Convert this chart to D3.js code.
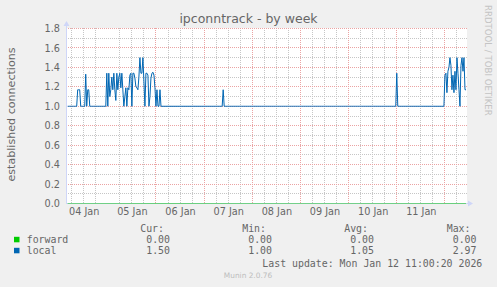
<!DOCTYPE html>
<html>
<head>
<meta charset="utf-8">
<script src="https://cdn.jsdelivr.net/npm/d3@7"></script>
<style>
body { margin: 0; background: #f0f0f0; }
svg { display: block; }
</style>
</head>
<body>
<div id="chart"></div>
<script>
// Samples are 30 minutes apart, the first one taken Jan 4 04:00.
var sampleStart = new Date(2026, 0, 4, 4, 0);
var sampleStepMinutes = 30;

// established connections, "local"
var localValues = [
    1,1,1,1,1,1,1,1,1,1, 1.17,1.17,1.17,1,1,1,1,1,1.33,1,
    1.17,1.17,1,1,1,1,1,1,1,1, 1,1,1,1,1,1,1,1,1,1.34,
    1,1.34,1.1,1.17,1.3,1.17,1.34,1.17,
    1.06,1.34,1.17,1.3,1.34,1.19,1.34,1.17,1,1.1, 1.19,1,1.19,1.17,1.32,1.34,1,1.34,1.34,1.29,
    1.2,1.19,1.17,1.3,1.5,1.34,1.34,1.5,1.25,1, 1.34,1.34,1.32,1,1.1,1.29,1.34,1.35,1.32,1.19,
    1,1.17,1,1,1.17,1,1,1,
    1,1,1,1,1,1,1,1,1,1, 1,1,1,1,1,1,1,1,1,1, 1,1,1,1,1,1,1,1,1,1, 1,1,1,1,1,1,1,1,1,1, 1,1,1,1,1,1,1,1,
    1,1,1,1,1,1,1,1,1,1, 1,1.17,1,1,1,1,1,1,1,1, 1,1,1,1,1,1,1,1,1,1, 1,1,1,1,1,1,1,1,1,1, 1,1,1,1,1,1,1,1,
    1,1,1,1,1,1,1,1,1,1, 1,1,1,1,1,1,1,1,1,1, 1,1,1,1,1,1,1,1,1,1, 1,1,1,1,1,1,1,1,1,1, 1,1,1,1,1,1,1,1,
    1,1,1,1,1,1,1,1,1,1, 1,1,1,1,1,1,1,1,1,1, 1,1,1,1,1,1,1,1,1,1, 1,1,1,1,1,1,1,1,1,1, 1,1,1,1,1,1,1,1,
    1,1,1,1,1,1,1,1,1,1, 1,1,1,1,1,1,1,1,1,1, 1,1,1,1,1,1,1,1,1,1, 1,1,1,1,1,1,1,1,1,1, 1.34,1,1,1,1,1,1,1,
    1,1,1,1,1,1,1,1,1,1, 1,1,1,1,1,1,1,1,1,1, 1,1,1,1,1,1,1,1,1,1, 1,1,1,1,1,1,1,1,1,1, 1.32,1.34,1.14,1.36,1.4,1.5,1.42,1.17,
    1.32,1.14,1.36,1.17,1.5,1.34,1.17,1,1.42,1.5, 1.36,1.5,1.17,1.17
];

// established connections, "forward"
var forwardValues = [
    0,0,0,0,0,0,0,0,0,0, 0,0,0,0,0,0,0,0,0,0, 0,0,0,0,0,0,0,0,0,0, 0,0,0,0,0,0,0,0,0,0, 0,0,0,0,0,0,0,0,
    0,0,0,0,0,0,0,0,0,0, 0,0,0,0,0,0,0,0,0,0, 0,0,0,0,0,0,0,0,0,0, 0,0,0,0,0,0,0,0,0,0, 0,0,0,0,0,0,0,0,
    0,0,0,0,0,0,0,0,0,0, 0,0,0,0,0,0,0,0,0,0, 0,0,0,0,0,0,0,0,0,0, 0,0,0,0,0,0,0,0,0,0, 0,0,0,0,0,0,0,0,
    0,0,0,0,0,0,0,0,0,0, 0,0,0,0,0,0,0,0,0,0, 0,0,0,0,0,0,0,0,0,0, 0,0,0,0,0,0,0,0,0,0, 0,0,0,0,0,0,0,0,
    0,0,0,0,0,0,0,0,0,0, 0,0,0,0,0,0,0,0,0,0, 0,0,0,0,0,0,0,0,0,0, 0,0,0,0,0,0,0,0,0,0, 0,0,0,0,0,0,0,0,
    0,0,0,0,0,0,0,0,0,0, 0,0,0,0,0,0,0,0,0,0, 0,0,0,0,0,0,0,0,0,0, 0,0,0,0,0,0,0,0,0,0, 0,0,0,0,0,0,0,0,
    0,0,0,0,0,0,0,0,0,0, 0,0,0,0,0,0,0,0,0,0, 0,0,0,0,0,0,0,0,0,0, 0,0,0,0,0,0,0,0,0,0, 0,0,0,0,0,0,0,0,
    0,0,0,0,0,0,0,0,0,0, 0,0,0,0,0,0,0,0,0,0, 0,0,0,0,0,0,0,0,0,0, 0,0,0,0,0,0,0,0,0,0, 0,0,0,0,0,0,0,0,
    0,0,0,0,0,0,0,0,0,0, 0,0,0,0
];

// Legend table.
var seriesNames = ["forward", "local"];
var legendCur = ["0.00", "1.50"];
var legendMin = ["0.00", "1.00"];
var legendAvg = ["0.00", "1.05"];
var legendMax = ["0.00", "2.97"];
var legendHeaders = ["Cur:", "Min:", "Avg:", "Max:"];

// Axes.
var yTicks = [0, 0.2, 0.4, 0.6, 0.8, 1.0, 1.2, 1.4, 1.6, 1.8];
var xTickDays = [4, 5, 6, 7, 8, 9, 10, 11]; // January 2026
var timeFrom = new Date(2026, 0, 4, 3, 40);
var timeTo = new Date(2026, 0, 12, 11, 0);

var title = "ipconntrack - by week";
var yTitle = "established connections";
var lastUpdate = "Last update: Mon Jan 12 11:00:20 2026";

var colors = {forward: "#00cc00", local: "#0066b3"};
var plot = {left: 67, right: 467, top: 28, bottom: 203};
var W = 497, H = 287;

var svg = d3.select("#chart").append("svg")
    .attr("width", W).attr("height", H);

svg.append("rect").attr("width", W).attr("height", H).attr("fill", "#f0f0f0");
svg.append("rect")
    .attr("x", plot.left).attr("y", plot.top)
    .attr("width", plot.right - plot.left).attr("height", plot.bottom - plot.top + 1)
    .attr("fill", "#ffffff");

var x = d3.scaleTime().domain([timeFrom, timeTo]).range([plot.left, plot.right]);
var y = d3.scaleLinear().domain([0, 1.8]).range([plot.bottom + 0.5, plot.top + 0.5]);

function sampleTime(i) {
    return new Date(sampleStart.getTime() + i * sampleStepMinutes * 60000);
}

// Dotted grid lines are 1px strips filled with a one-on / one-off pixel pattern.
var defs = svg.append("defs");
function dotPattern(id, color, w, h) {
    var p = defs.append("pattern").attr("id", id)
        .attr("patternUnits", "userSpaceOnUse")
        .attr("width", w).attr("height", h);
    p.append("rect").attr("width", 1).attr("height", 1).attr("fill", color);
}
dotPattern("minorH", "#c6c6c6", 2, 1);
dotPattern("minorV", "#c6c6c6", 1, 2);
dotPattern("majorH", "#eba3a3", 2, 1);
dotPattern("majorV", "#eba3a3", 1, 2);

// Grid: minor every 0.1 / 6 hours, major every 0.2 / day.
var grid = svg.append("g").attr("shape-rendering", "crispEdges");
var minorY = d3.range(1, 18, 2).map(function(k) { return k / 10; });
var dayLines = d3.timeDay.range(timeFrom, timeTo);
var sixHours = d3.timeHour.every(6).range(timeFrom, timeTo).filter(function(d) { return d.getHours() != 0; });

function hLines(data, fill) {
    grid.selectAll(null).data(data).enter().append("rect")
        .attr("x", plot.left).attr("width", plot.right - plot.left + 1)
        .attr("y", function(d) { return Math.floor(y(d)); })
        .attr("height", 1)
        .attr("fill", fill);
}
function vLines(data, fill) {
    grid.selectAll(null).data(data).enter().append("rect")
        .attr("x", function(d) { return Math.floor(x(d)); })
        .attr("width", 1)
        .attr("y", plot.top).attr("height", plot.bottom - plot.top + 1)
        .attr("fill", fill);
}
hLines(minorY, "url(#minorH)");
vLines(sixHours, "url(#minorV)");
hLines(yTicks.slice(1), "url(#majorH)");
vLines(dayLines.slice(1), "url(#majorV)");

// Axis lines
var axisColor = "#cfd6f8";
svg.append("line")
    .attr("x1", 66.5).attr("x2", 66.5).attr("y1", plot.bottom + 1).attr("y2", 25)
    .attr("stroke", axisColor);
svg.append("line")
    .attr("x1", 66).attr("x2", 469).attr("y1", plot.bottom + 0.5).attr("y2", plot.bottom + 0.5)
    .attr("stroke", axisColor);
svg.append("path").attr("d", "M63.5,26 L69.5,26 L66.5,21 Z").attr("fill", axisColor);
svg.append("path").attr("d", "M468,200.5 L468,206.5 L473,203.5 Z").attr("fill", axisColor);

// Series
var line = d3.line()
    .x(function(d, i) { return x(sampleTime(i)); })
    .y(function(d) { return y(d); });

svg.append("path").datum(forwardValues)
    .attr("d", line).attr("fill", "none")
    .attr("stroke", colors.forward).attr("stroke-opacity", 0.5).attr("stroke-width", 1);
svg.append("path").datum(localValues)
    .attr("d", line).attr("fill", "none")
    .attr("stroke", colors.local).attr("stroke-width", 1);

// Tick labels
var yAxis = d3.axisLeft(y).tickValues(yTicks).tickSize(0).tickPadding(7)
    .tickFormat(d3.format(".1f"));
var yg = svg.append("g").attr("transform", "translate(" + plot.left + ",0)").call(yAxis);

var xAxis = d3.axisBottom(x)
    .tickValues(xTickDays.map(function(d) { return new Date(2026, 0, d, 12); }))
    .tickSize(0).tickPadding(5)
    .tickFormat(d3.timeFormat("%d %b"));
var xg = svg.append("g").attr("transform", "translate(0," + 203 + ")").call(xAxis);

[yg, xg].forEach(function(g) {
    g.select(".domain").remove();
    g.selectAll("text")
        .attr("fill", "#666")
        .style("font-family", "DejaVu Sans")
        .style("font-size", "9.7px");
});

// Titles
svg.append("text")
    .attr("x", 248.5).attr("y", 23.3).attr("text-anchor", "middle")
    .attr("fill", "#666").style("font-family", "DejaVu Sans").style("font-size", "12.5px")
    .text(title);

svg.append("text")
    .attr("transform", "translate(15,114.5) rotate(-90)").attr("text-anchor", "middle")
    .attr("fill", "#666").style("font-family", "DejaVu Sans").style("font-size", "11.1px")
    .text(yTitle);

svg.append("text")
    .attr("transform", "translate(485,5) rotate(90)")
    .attr("fill", "#c4c4c4").style("font-family", "DejaVu Sans").style("font-size", "8.6px")
    .text("RRDTOOL / TOBI OETIKER");

// Legend
var mono = {family: "DejaVu Sans Mono", size: "9.9px"};
var legend = svg.append("g")
    .attr("fill", "#666")
    .style("font-family", mono.family).style("font-size", mono.size);

var colRight = [170, 272, 374, 476.5];
var rowBase = [243.3, 254.3];

legend.selectAll(".hdr").data(legendHeaders).enter().append("text")
    .attr("x", function(d, i) { return colRight[i] - 6; })
    .attr("y", 232).attr("text-anchor", "end").text(function(d) { return d; });

seriesNames.forEach(function(name, r) {
    legend.append("rect")
        .attr("x", 14).attr("y", rowBase[r] - 6.5).attr("width", 5.5).attr("height", 5.5)
        .attr("fill", colors[name]);
    legend.append("text").attr("x", 26.7).attr("y", rowBase[r]).text(name);
    [legendCur, legendMin, legendAvg, legendMax].forEach(function(col, c) {
        legend.append("text")
            .attr("x", colRight[c]).attr("y", rowBase[r]).attr("text-anchor", "end")
            .text(col[r]);
    });
});

legend.append("text")
    .attr("x", 482.3).attr("y", 267).attr("text-anchor", "end")
    .text(lastUpdate);

svg.append("text")
    .attr("x", 248).attr("y", 278).attr("text-anchor", "middle")
    .attr("fill", "#bdbdbd").style("font-family", "DejaVu Sans").style("font-size", "7.4px")
    .text("Munin 2.0.76");
</script>
</body>
</html>
